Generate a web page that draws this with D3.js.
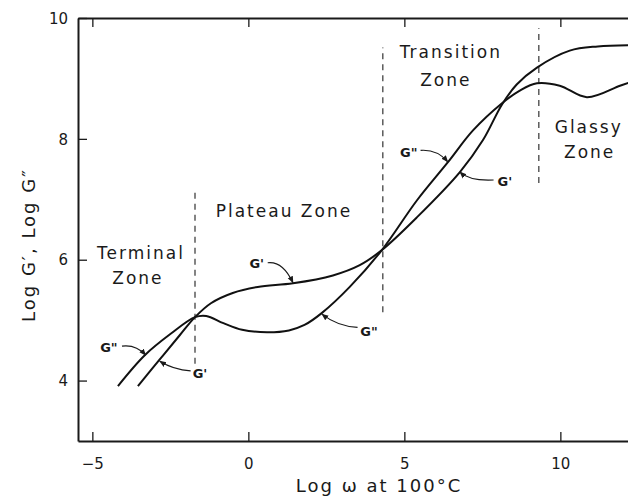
<!DOCTYPE html>
<html>
<head>
<meta charset="utf-8">
<script src="https://cdn.jsdelivr.net/npm/d3@7"></script>
<style>
  body { margin: 0; background: #fff; }
  svg { display: block; }
  text { font-family: "DejaVu Sans", sans-serif; fill: #1a1a1a; }
</style>
</head>
<body>
<div id="chart"></div>
<script>
// log frequency / log modulus readings taken off the figure
const gPrimeX  = [-3.54, -2.84, -2.20, -1.71, -1.20, -0.50, 0.30, 1.43, 2.71, 3.57, 4.28, 5.40, 6.78, 7.52, 8.13, 8.60, 9.25, 10.30, 11.20, 12.20];
const gPrimeY  = [3.91, 4.35, 4.75, 5.05, 5.28, 5.45, 5.55, 5.61, 5.74, 5.91, 6.16, 6.70, 7.45, 7.98, 8.57, 8.90, 9.18, 9.46, 9.53, 9.55];
const gDoubleX = [-4.18, -3.32, -2.50, -1.71, -1.35, -0.80, -0.20, 0.60, 1.30, 1.80, 2.36, 3.25, 4.28, 5.40, 6.39, 7.20, 8.13, 8.70, 9.25, 9.98, 10.85, 11.91, 12.20];
const gDoubleY = [3.91, 4.42, 4.77, 5.05, 5.07, 4.95, 4.84, 4.80, 4.83, 4.92, 5.12, 5.55, 6.16, 6.98, 7.61, 8.14, 8.59, 8.80, 8.92, 8.88, 8.69, 8.88, 8.93];

const xTicks = [-5, 0, 5, 10];
const yTicks = [4, 6, 8, 10];

// zone boundaries (x, y from, y to)
const zoneX = [-1.71, 4.31, 9.31];
const zoneY0 = [4.28, 5.13, 7.27];
const zoneY1 = [7.18, 9.51, 9.83];

// zone names
const zoneText = ["Terminal", "Zone", "Plateau Zone", "Transition", "Zone", "Glassy", "Zone"];
const zoneTx = [-3.44, -3.54, 1.14, 6.49, 6.33, 10.91, 10.94];
const zoneTy = [6.11, 5.69, 6.80, 9.43, 8.97, 8.19, 7.78];

// curve labels with arrows: label pos, arrow start, control, end
const tagText = ['G"', "G'", "G'", 'G"', 'G"', "G'"];
const tagX = [-4.47, -1.55, 0.27, 3.87, 5.14, 8.22];
const tagY = [4.55, 4.11, 5.93, 4.82, 7.78, 7.29];
const arrowFrom = [[-4.05, 4.57], [-1.85, 4.16], [0.62, 5.95], [3.50, 4.88], [5.52, 7.81], [7.86, 7.32]];
const arrowCtrl = [[-3.60, 4.60], [-2.40, 4.18], [1.10, 5.98], [2.85, 4.90], [6.05, 7.83], [7.10, 7.30]];
const arrowTo   = [[-3.29, 4.42], [-2.84, 4.32], [1.43, 5.62], [2.36, 5.10], [6.39, 7.62], [6.78, 7.45]];

const W = 628, H = 499;

const svg = d3.select("#chart").append("svg")
    .attr("width", W)
    .attr("height", H);

const x = d3.scaleLinear().domain([-5.46, 12.2]).range([78, 629]);
const y = d3.scaleLinear().domain([3, 10]).range([441, 18]);

svg.append("defs").append("clipPath").attr("id", "plot")
  .append("rect").attr("x", 78).attr("y", 18).attr("width", W - 78).attr("height", 423);

svg.append("defs").append("marker")
    .attr("id", "head")
    .attr("viewBox", "0 0 10 10")
    .attr("refX", 9).attr("refY", 5)
    .attr("markerWidth", 7).attr("markerHeight", 7)
    .attr("markerUnits", "userSpaceOnUse")
    .attr("orient", "auto")
  .append("path")
    .attr("d", "M0,1 L10,5 L0,9 Z")
    .attr("fill", "#1a1a1a");

// axes: bottom, left, top with inner ticks
const axisColor = "#1a1a1a";
const gx = svg.append("g").attr("transform", `translate(0,${y(3)})`)
  .call(d3.axisBottom(x).tickValues(xTicks).tickSizeInner(-9).tickSizeOuter(0).tickPadding(17)
    .tickFormat(d => d < 0 ? "\u2212" + Math.abs(d) : d));
const gt = svg.append("g").attr("transform", `translate(0,${y(10)})`)
  .call(d3.axisTop(x).tickValues(xTicks).tickSizeInner(-9).tickSizeOuter(0).tickFormat(""));
const gy = svg.append("g").attr("transform", `translate(${x(-5.46)},0)`)
  .call(d3.axisLeft(y).tickValues(yTicks).tickSizeInner(-9).tickSizeOuter(0).tickPadding(10)
    .tickFormat(d3.format("d")));

[gx, gt, gy].forEach(g => {
  g.select(".domain").attr("stroke", axisColor).attr("stroke-width", 2);
  g.selectAll(".tick line").attr("stroke", axisColor).attr("stroke-width", 1.3);
  g.selectAll(".tick text").style("font-size", "15px").attr("fill", axisColor);
});
gy.selectAll(".tick text").attr("dy", "0.35em");

// axis titles
svg.append("text")
  .attr("x", 379).attr("y", 492)
  .attr("text-anchor", "middle")
  .style("font-size", "18px")
  .style("letter-spacing", "2px")
  .text("Log \u03c9  at 100\u00b0C");

svg.append("text")
  .attr("transform", `translate(35,${245}) rotate(-90)`)
  .attr("text-anchor", "middle")
  .style("font-size", "18px")
  .style("letter-spacing", "2px")
  .text("Log G\u2032,  Log G\u2033");

// zone boundaries
svg.append("g").selectAll("line")
  .data(zoneX)
  .enter().append("line")
    .attr("x1", d => x(d)).attr("x2", d => x(d))
    .attr("y1", (d, i) => y(zoneY0[i]))
    .attr("y2", (d, i) => y(zoneY1[i]))
    .attr("stroke", "#333")
    .attr("stroke-width", 1.2)
    .attr("stroke-dasharray", "6,5");

// curves
const line = d3.line()
  .x(d => x(d[0]))
  .y(d => y(d[1]))
  .curve(d3.curveCatmullRom.alpha(0.5));

const plot = svg.append("g").attr("clip-path", "url(#plot)");
plot.append("path")
  .datum(gPrimeX.map((v, i) => [v, gPrimeY[i]]))
  .attr("d", line)
  .attr("fill", "none")
  .attr("stroke", "#111")
  .attr("stroke-width", 2);
plot.append("path")
  .datum(gDoubleX.map((v, i) => [v, gDoubleY[i]]))
  .attr("d", line)
  .attr("fill", "none")
  .attr("stroke", "#111")
  .attr("stroke-width", 2);

// zone names
svg.append("g").selectAll("text")
  .data(zoneText)
  .enter().append("text")
    .attr("x", (d, i) => x(zoneTx[i]))
    .attr("y", (d, i) => y(zoneTy[i]))
    .attr("text-anchor", "middle")
    .attr("dominant-baseline", "central")
    .style("font-size", "17px")
    .style("letter-spacing", "2px")
    .text(d => d);

// curve tags
svg.append("g").selectAll("text")
  .data(tagText)
  .enter().append("text")
    .attr("x", (d, i) => x(tagX[i]))
    .attr("y", (d, i) => y(tagY[i]))
    .attr("text-anchor", "middle")
    .attr("dominant-baseline", "central")
    .style("font-size", "13px")
    .style("font-weight", "bold")
    .text(d => d);

svg.append("g").selectAll("path")
  .data(arrowFrom)
  .enter().append("path")
    .attr("d", (d, i) => {
      const c = arrowCtrl[i], e = arrowTo[i];
      return `M${x(d[0])},${y(d[1])} Q${x(c[0])},${y(c[1])} ${x(e[0])},${y(e[1])}`;
    })
    .attr("fill", "none")
    .attr("stroke", "#1a1a1a")
    .attr("stroke-width", 1.1)
    .attr("marker-end", "url(#head)");
</script>
</body>
</html>
